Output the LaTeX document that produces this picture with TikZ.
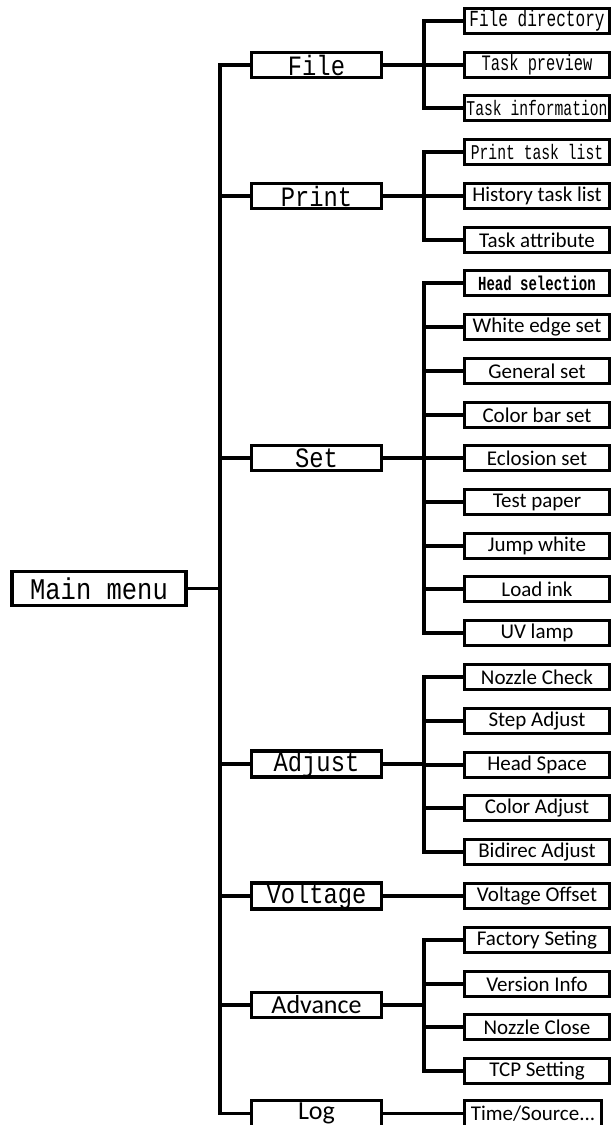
\documentclass[tikz,border=0pt]{standalone}
\usepackage{fontspec}
\setmainfont{Carlito}
\newfontfamily\widemono[FakeStretch=0.85]{Liberation Mono}
\newfontfamily\narrowmono[FakeStretch=0.7]{Liberation Mono}
\usetikzlibrary{positioning}

\begin{document}
\begin{tikzpicture}[x=1pt, y=-1pt,
  box/.style={draw, line width=3.4pt, rectangle, inner sep=0pt, minimum height=25.5pt},
  mainbox/.style={box, minimum width=174pt, minimum height=33.5pt, font=\widemono\fontsize{30}{30}\selectfont},
  menubox/.style={box, minimum width=129.5pt, font=\widemono\fontsize{28}{28}\selectfont},
  sansmenu/.style={box, minimum width=129.5pt, font=\fontsize{26}{26}\selectfont},
  itembox/.style={box, minimum width=144.5pt, font=\fontsize{21}{21}\selectfont},
  monoitem/.style={box, minimum width=144.5pt, font=\narrowmono\fontsize{#1}{#1}\selectfont},
  link/.style={line width=3.6pt, line join=miter}]
  \useasboundingbox (0,0) rectangle (613,1125);

  % main menu and first level
  \node[mainbox] (main) at (99,588.5) {Main menu};
  \node[menubox] (file) at (316.5,65) {File};
  \node[menubox] (print) at (316.5,196) {Print};
  \node[menubox] (set) at (316.5,458) {Set};
  \node[menubox] (adjust) at (316.5,764) {Adjust};
  \node[menubox] (voltage) at (316.5,896) {Voltage};
  \node[sansmenu] (advance) at (316.5,1005) {Advance};
  \node[sansmenu] (log) at (316.5,1113.5) {Log};

  % second level: File
  \node[monoitem=23] (fdir) at (537,21) {File directory};
  \node[monoitem=22] (fprev) at (537,65) {Task preview};
  \node[monoitem=21] (finfo) at (537,108) {Task information};
  % Print
  \node[monoitem=21] (ptask) at (537,152) {Print task list};
  \node[itembox] (phist) at (537,196) {History task list};
  \node[itembox] (pattr) at (537,240) {Task attribute};
  % Set
  \node[monoitem=20, font=\narrowmono\bfseries\fontsize{20}{20}\selectfont] (shead) at (537,283) {Head selection};
  \node[itembox] (swhite) at (537,327) {White edge set};
  \node[itembox] (sgen) at (537,371) {General set};
  \node[itembox] (scolor) at (537,415) {Color bar set};
  \node[itembox] (secl) at (537,458) {Eclosion set};
  \node[itembox] (stest) at (537,502) {Test paper};
  \node[itembox] (sjump) at (537,546) {Jump white};
  \node[itembox] (sink) at (537,589) {Load ink};
  \node[itembox] (suv) at (537,633) {UV lamp};
  % Adjust
  \node[itembox] (anoz) at (537,677) {Nozzle Check};
  \node[itembox] (astep) at (537,721) {Step Adjust};
  \node[itembox] (ahead) at (537,765) {Head Space};
  \node[itembox] (acolor) at (537,808) {Color Adjust};
  \node[itembox] (abidi) at (537,852) {Bidirec Adjust};
  % Voltage
  \node[itembox] (voff) at (537,896) {Voltage Offset};
  % Advance
  \node[itembox] (vfac) at (537,940) {Factory Seting};
  \node[itembox] (vver) at (537,984) {Version Info};
  \node[itembox] (vnoz) at (537,1027) {Nozzle Close};
  \node[itembox] (vtcp) at (537,1071) {TCP Setting};
  % Log
  \node[itembox, minimum width=136.5pt] (ltime) at (533,1113.5) {Time/Source...};

  % junctions
  \coordinate (trunk) at (220,588.5);
  \coordinate (filejoin) at (424,65);
  \coordinate (printjoin) at (424,196);
  \coordinate (setjoin) at (424,458);
  \coordinate (adjustjoin) at (424,764);
  \coordinate (advancejoin) at (424,1005);

  % trunk
  \draw[link] (main) -- (trunk);
  \draw[link] (file) -| (trunk) |- (log);
  \foreach \n in {print,set,adjust,voltage,advance}
    \draw[link] (\n.west) -- (\n.west -| trunk);

  % branches
  \draw[link] (fdir) -| (filejoin) |- (finfo);
  \draw[link] (file) -- (filejoin) -- (fprev);
  \draw[link] (ptask) -| (printjoin) |- (pattr);
  \draw[link] (print) -- (printjoin) -- (phist);
  \draw[link] (shead) -| (setjoin) |- (suv);
  \draw[link] (set) -- (setjoin);
  \foreach \n in {swhite,sgen,scolor,secl,stest,sjump,sink}
    \draw[link] (\n.west) -- (\n.west -| setjoin);
  \draw[link] (anoz) -| (adjustjoin) |- (abidi);
  \draw[link] (adjust) -- (adjustjoin);
  \foreach \n in {astep,ahead,acolor}
    \draw[link] (\n.west) -- (\n.west -| adjustjoin);
  \draw[link] (voltage) -- (voff);
  \draw[link] (vfac) -| (advancejoin) |- (vtcp);
  \draw[link] (advance) -- (advancejoin);
  \foreach \n in {vver,vnoz}
    \draw[link] (\n.west) -- (\n.west -| advancejoin);
  \draw[link] (log) -- (ltime);
\end{tikzpicture}
\end{document}
